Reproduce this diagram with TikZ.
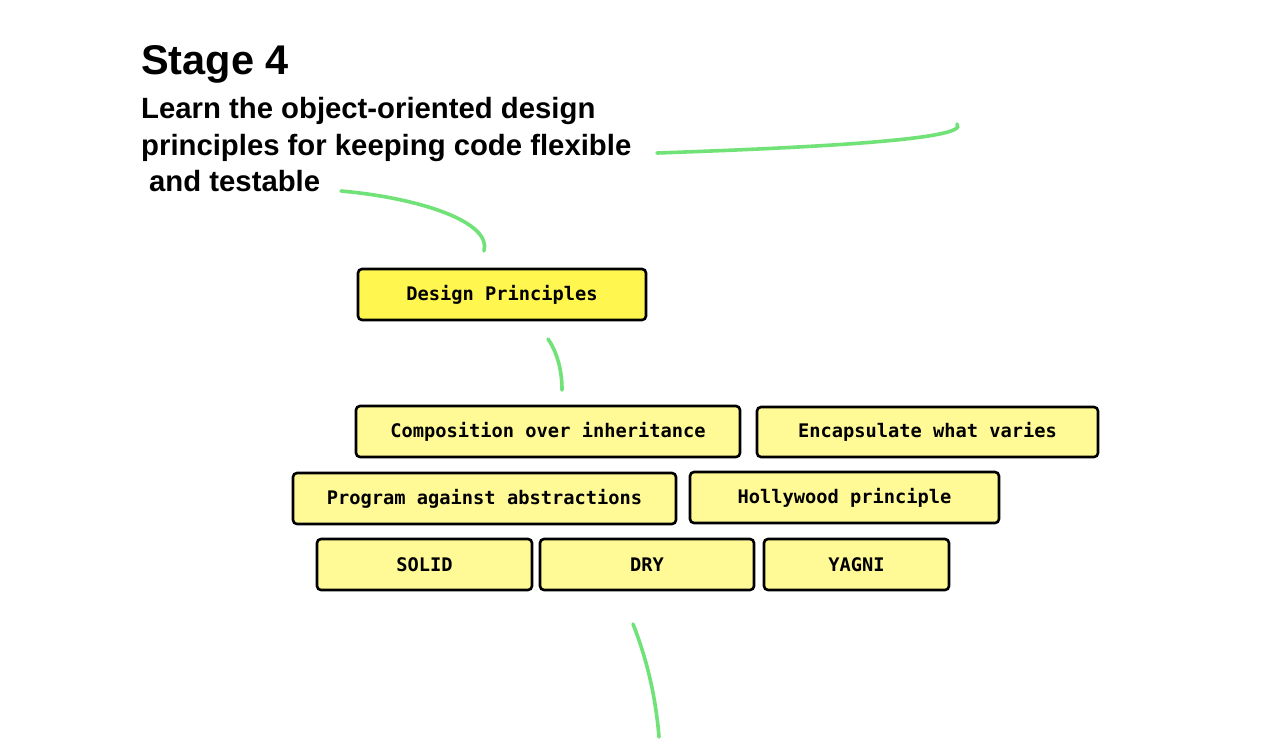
\documentclass[tikz,border=0pt]{standalone}
\usepackage{fontspec}
\setmainfont{Liberation Sans}
\newfontfamily\boxfont{DejaVu Sans Mono}
\definecolor{brightyel}{RGB}{255,247,80}
\definecolor{lightyel}{RGB}{255,250,150}
\definecolor{curvegreen}{RGB}{112,226,120}
\begin{document}
\begin{tikzpicture}[x=1pt,y=-1pt,
  topicbox/.style={draw=black, line width=2.6pt, rounded corners=4pt, fill=lightyel,
    inner sep=0pt, font=\boxfont\bfseries\fontsize{18.7}{20}\selectfont},
  mainbox/.style={topicbox, fill=brightyel},
  titletext/.style={anchor=base west, inner sep=0pt, font=\bfseries\fontsize{41.5}{48}\selectfont},
  subtext/.style={anchor=base west, inner sep=0pt, font=\bfseries\fontsize{29.3}{36}\selectfont},
  squiggle/.style={draw=curvegreen, line width=3.6pt, line cap=round}]
\useasboundingbox (0,0) rectangle (1276,748);
\fill[white] (0,0) rectangle (1276,748);

% titles
\node[titletext] (stage) at (141,74) {Stage 4};
\node[subtext] (sub1) at (141,118) {Learn the object-oriented design};
\node[subtext] (sub2) at (141,155) {principles for keeping code flexible};
\node[subtext] (sub3) at (149,191) {and testable};

% boxes
\newcommand{\tbox}[6]{%
  \node[#1, minimum width={#4-#2}, minimum height={#5-#3}] (#6) at ({(#2+#4)/2},{(#3+#5)/2})}
\tbox{mainbox}{358}{269}{646}{320}{dp} {Design Principles};
\tbox{topicbox}{356}{406}{740}{457}{coi} {Composition over inheritance};
\tbox{topicbox}{757}{407}{1098}{457}{ewv} {Encapsulate what varies};
\tbox{topicbox}{293}{473}{676}{524}{paa} {Program against abstractions};
\tbox{topicbox}{690}{472}{999}{523}{hp} {Hollywood principle};
\tbox{topicbox}{317}{539}{532}{590}{solid} {SOLID};
\tbox{topicbox}{540}{539}{754}{590}{dry} {DRY};
\tbox{topicbox}{764}{539}{949}{590}{yagni} {YAGNI};

% free curves
\coordinate (c1a) at (341,191);
\coordinate (c1b) at (484,251);
\coordinate (c2a) at (657,153);
\coordinate (c2b) at (957,124);
\coordinate (c3a) at (548,339);
\coordinate (c3b) at (562,390);
\coordinate (c4a) at (633,624);
\coordinate (c4b) at (659,737);
\draw[squiggle] (c1a) .. controls (420,198) and (492,222) .. (c1b);
\draw[squiggle] (c2a) .. controls (800,148) and (972,140) .. (c2b);
\draw[squiggle] (c3a) .. controls (557,352) and (562,370) .. (c3b);
\draw[squiggle] (c4a) .. controls (648,662) and (656,700) .. (c4b);
\end{tikzpicture}
\end{document}
